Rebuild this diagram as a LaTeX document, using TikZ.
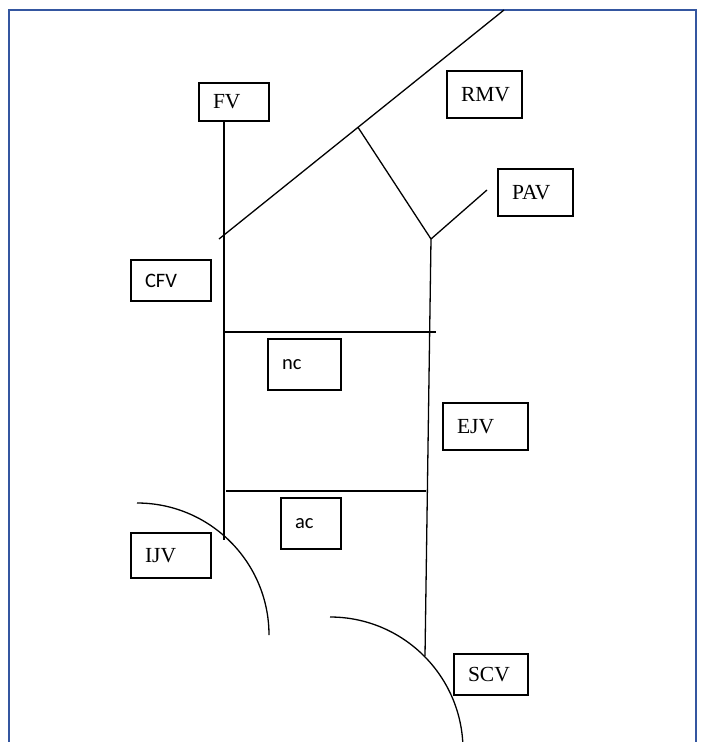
\documentclass[tikz,border=0pt]{standalone}
\usepackage{fontspec}
\setmainfont{Liberation Serif}
\newfontfamily\labelsans{Carlito}
\usetikzlibrary{positioning}
\definecolor{framecol}{RGB}{52,86,160}

\begin{document}
\begin{tikzpicture}[x=1pt, y=-1pt,
    vein/.style={line width=1.3pt},
    vbox/.style={draw, line width=1.3pt, inner xsep=14pt, inner ysep=0pt, align=left,
        font=\fontsize{21.5}{24}\selectfont},
    sbox/.style={vbox, font=\labelsans\fontsize{20.5}{23}\selectfont}]
\useasboundingbox (0,0) rectangle (702,742);
\clip (0,0) rectangle (702,742);
\draw[framecol, line width=1.3pt] (9,10) rectangle (696,770);

\node[vbox, text width=42pt, minimum height=38pt] (FV) at (234,102) {FV};
\node[vbox, text width=47pt, minimum height=47pt] (RMV) at (484.5,94.5) {RMV};
\node[vbox, text width=47pt, minimum height=47pt] (PAV) at (535.5,192.5) {PAV};
\node[sbox, text width=52pt, minimum height=41pt] (CFV) at (171,280.5) {CFV};
\node[sbox, text width=45pt, minimum height=51pt] (nc) at (304.5,364.5) {nc};
\node[vbox, text width=57pt, minimum height=47pt] (EJV) at (485.5,426.5) {EJV};
\node[sbox, text width=32pt, minimum height=51pt] (ac) at (311,523.5) {ac};
\node[vbox, text width=52pt, minimum height=45pt] (IJV) at (171,555.5) {IJV};
\node[vbox, text width=46pt, minimum height=41pt] (SCV) at (491,674.5) {SCV};

\coordinate (fvbot) at (224,540);
\coordinate (dlow) at (219,239);
\coordinate (dtop) at (504,10);
\coordinate (jn) at (358,127.3);
\coordinate (fork) at (431,239);
\coordinate (pavend) at (487,190);
\coordinate (ejbot) at (425,656);
\coordinate (ncl) at (224,332);
\coordinate (ncr) at (436,332);
\coordinate (acl) at (226,491);
\coordinate (acr) at (426,491);
\coordinate (ijtop) at (137,503);
\coordinate (sctop) at (330,617);

\draw[vein] (FV.south -| fvbot) -- (fvbot);
\draw[vein] (dlow) -- (dtop);
\draw[vein] (jn) -- (fork);
\draw[vein] (fork) -- (pavend);
\draw[vein] (fork) -- (ejbot);
\draw[vein] (ncl) -- (ncr);
\draw[vein] (acl) -- (acr);
\draw[vein] (ijtop) arc[start angle=-90, end angle=0, radius=132];
\draw[vein] (sctop) arc[start angle=-90, end angle=0, radius=133];
\end{tikzpicture}
\end{document}
